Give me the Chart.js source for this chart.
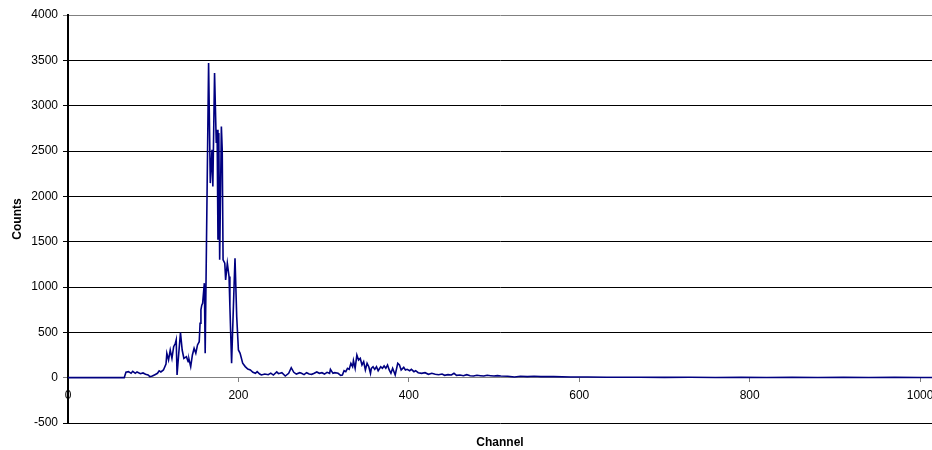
<!DOCTYPE html>
<html>
<head>
<meta charset="utf-8">
<title>Counts per Channel</title>
<script src="https://cdn.jsdelivr.net/npm/chart.js@4.4.1/dist/chart.umd.min.js"></script>
<style>
    html, body { margin: 0; padding: 0; background: #fff; }
    .chart-wrap { width: 932px; height: 450px; }
</style>
</head>
<body>
<div class="chart-wrap"><canvas id="spectrum"></canvas></div>
<script>
// Chart.js default configuration
Chart.defaults.font.family = "'Liberation Sans', Arial, sans-serif";
Chart.defaults.color = '#000';

// Spectrum data
const channels = [
    0, 66, 68, 71, 74, 76, 79, 81, 85, 88, 91, 94, 96, 99, 102, 105, 107, 109, 112, 115,
    116, 118, 120, 122, 124, 126, 127, 128, 130, 132, 134, 136, 139, 141, 142, 144, 146, 148, 150, 152,
    154, 155, 156, 157, 158, 160, 161, 165, 167, 169, 170, 172, 174, 175, 176, 177, 178, 180, 181, 182,
    184, 185, 187, 189, 190, 192, 195, 196, 198, 200, 202, 205, 208, 211, 214, 217, 220, 222, 225, 227,
    231, 235, 238, 241, 245, 247, 251, 255, 259, 262, 265, 268, 272, 274, 277, 280, 283, 286, 289, 292,
    295, 298, 301, 304, 307, 308, 311, 313, 317, 320, 322, 324, 326, 328, 330, 332, 334, 335, 337, 339,
    341, 343, 345, 347, 349, 351, 353, 355, 356, 358, 360, 362, 364, 367, 369, 371, 373, 375, 377, 379,
    381, 384, 387, 389, 391, 394, 396, 398, 401, 403, 406, 408, 411, 415, 419, 423, 427, 431, 435, 439,
    442, 446, 450, 453, 456, 460, 464, 468, 472, 476, 480, 484, 488, 492, 496, 500, 504, 508, 516, 524,
    531, 539, 547, 555, 570, 590, 610, 632, 650, 671, 700, 730, 760, 790, 820, 850, 880, 910, 940, 970,
    1000, 1014
];
const counts = [
    0, 0, 60, 66, 48, 70, 48, 63, 44, 52, 37, 29, 11, 18, 33, 48, 75, 63, 85, 150,
    269, 195, 305, 213, 342, 379, 416, 29, 269, 497, 305, 213, 232, 177, 202, 121, 250, 324, 269, 361,
    397, 600, 747, 800, 821, 1042, 270, 3471, 2146, 2514, 2109, 3361, 2588, 2735, 1520, 2698, 1300, 2771, 2514, 1300,
    1263, 1079, 1263, 1115, 784, 159, 1042, 1318, 673, 306, 269, 159, 122, 95, 85, 60, 48, 66, 40, 30,
    40, 33, 50, 29, 63, 44, 55, 18, 48, 110, 59, 40, 55, 48, 33, 55, 40, 37, 48, 63,
    48, 55, 40, 59, 48, 92, 48, 55, 48, 26, 29, 77, 66, 103, 92, 158, 121, 188, 103, 250,
    195, 213, 140, 177, 85, 158, 121, 48, 103, 121, 92, 121, 77, 121, 103, 129, 103, 140, 85, 48,
    103, 29, 158, 140, 85, 114, 85, 92, 77, 92, 66, 77, 55, 48, 55, 37, 48, 37, 33, 40,
    26, 33, 29, 48, 26, 29, 22, 33, 22, 18, 26, 22, 18, 26, 22, 18, 22, 18, 15, 7,
    15, 11, 15, 11, 11, 7, 7, 4, 5, 4, 3, 4, 2, 3, 2, 3, 2, 3, 2, 3,
    2, 2
];

// Axis ticks
const xTicks = [0, 200, 400, 600, 800, 1000];
const yTicks = [-500, 0, 500, 1000, 1500, 2000, 2500, 3000, 3500, 4000];

// Build the chart
function initializeChart() {
    const ctx = document.getElementById('spectrum').getContext('2d');
    const points = channels.map((ch, i) => ({ x: ch, y: counts[i] }));

    return new Chart(ctx, {
        type: 'line',
        data: {
            datasets: [{
                data: points,
                borderColor: '#000080',
                borderWidth: 1.6,
                pointRadius: 0,
                tension: 0,
                fill: false
            }]
        },
        options: {
            responsive: true,
            maintainAspectRatio: false,
            animation: false,
            layout: {
                padding: { top: 15, left: 0, right: 0, bottom: 0 }
            },
            plugins: {
                legend: { display: false },
                tooltip: { enabled: false }
            },
            scales: {
                x: {
                    type: 'linear',
                    position: { y: 0 },
                    min: 0,
                    max: 1014,
                    afterBuildTicks: scale => {
                        scale.ticks = xTicks.map(v => ({ value: v }));
                    },
                    afterFit: scale => {
                        scale.paddingLeft = 0;
                        scale.paddingRight = 0;
                    },
                    ticks: {
                        autoSkip: false,
                        maxRotation: 0,
                        padding: 7,
                        font: { size: 12 },
                        callback: v => String(v)
                    },
                    grid: {
                        drawOnChartArea: false,
                        drawTicks: true,
                        tickLength: 4,
                        color: '#808080'
                    },
                    border: { color: '#808080', width: 1 }
                },
                // bottom axis only carries the "Channel" title under the plot
                xTitle: {
                    type: 'linear',
                    axis: 'x',
                    position: 'bottom',
                    min: 0,
                    max: 1014,
                    afterFit: scale => {
                        scale.height = 27;
                        scale.paddingLeft = 0;
                        scale.paddingRight = 0;
                    },
                    ticks: { display: false },
                    grid: { display: false, drawTicks: false },
                    border: { display: false },
                    title: {
                        display: true,
                        text: 'Channel',
                        color: '#000',
                        font: { size: 12, weight: 'bold' },
                        padding: { top: 0, bottom: 0 }
                    }
                },
                y: {
                    min: -500,
                    max: 4000,
                    afterBuildTicks: scale => {
                        scale.ticks = yTicks.map(v => ({ value: v }));
                    },
                    afterFit: scale => {
                        scale.width = 68;
                    },
                    ticks: {
                        padding: 5,
                        font: { size: 12 },
                        callback: v => String(v)
                    },
                    grid: {
                        color: c => (c.tick && (c.tick.value === 0 || c.tick.value === 4000)) ? '#808080' : '#000',
                        tickLength: 5,
                        lineWidth: 1
                    },
                    border: { color: '#000', width: 2 },
                    title: {
                        display: true,
                        text: 'Counts',
                        color: '#000',
                        font: { size: 12, weight: 'bold' },
                        padding: { top: 10, bottom: 0 }
                    }
                }
            }
        }
    });
}

document.addEventListener('DOMContentLoaded', initializeChart);
</script>
</body>
</html>
